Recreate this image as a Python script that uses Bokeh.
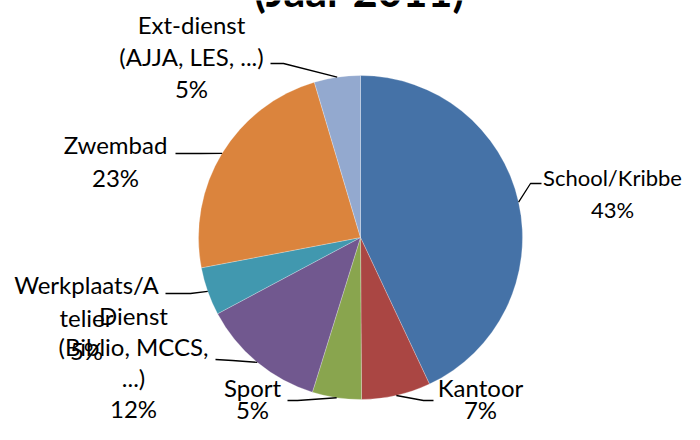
import math
from bokeh.plotting import figure
from bokeh.models import Range1d, ColumnDataSource
from bokeh.core.properties import value
from bokeh.embed import file_html
from bokeh.resources import INLINE

# ---- data ----
title_text = "(Jaar 2011)"
categories = ["School/Kribbe", "Kantoor", "Sport", "Dienst (Biblio, MCCS, ...)",
              "Werkplaats/Atelier", "Zwembad", "Ext-dienst (AJJA, LES, ...)"]
shares = [43.0, 6.9, 4.9, 12.4, 4.8, 23.4, 4.6]
label_lines = [["School/Kribbe"], ["Kantoor"], ["Sport"],
               ["Dienst", "(Biblio, MCCS,", "...)"],
               ["Werkplaats/A", "telier"], ["Zwembad"],
               ["Ext-dienst", "(AJJA, LES, ...)"]]
colors = ["#4572A7", "#AA4643", "#89A54E", "#71588F", "#4198AF", "#DB843D", "#93A9CF"]

# ---- layout (picture pixels) ----
W, H = 684, 424
CX, CY, R = 360, 237, 162
label_cx = [612, 480, 252, 133, 86, 115, 191]
label_base = [185, 396, 396, 324, 293, 153, 33]
line_step = [32, 22, 22, 31, 33, 33, 32]
label_size = [22, 24, 24, 24, 24, 24, 24]
attach = [(541, 183), (433, 400), (287, 400), (215, 359), (165, 293), (175, 153), (270, 63)]
elbow = [(530, 183), (423, 400), (297, 400), (232, 360), (190, 293), (200, 153), (283, 63)]
FONT = "Lato"
SHIFT = 0.37   # empirical baseline correction, in em

def Y(py):
    return 440 - py

total = sum(shares)
starts, ends, mids = [], [], []
c = 0.0
for s in shares:
    f0 = c / total
    c += s
    f1 = c / total
    starts.append(math.pi / 2 - 2 * math.pi * f0)
    ends.append(math.pi / 2 - 2 * math.pi * f1)
    mids.append((f0 + f1) / 2)

p = figure(width=W, height=H,
           x_range=Range1d(0, W), y_range=Range1d(Y(H), Y(0)),
           output_backend="svg", toolbar_location=None, min_border=0,
           x_axis_type=None, y_axis_type=None)
p.grid.visible = False
p.outline_line_color = None
p.background_fill_color = "white"

src = ColumnDataSource(dict(cat=categories, start=starts, end=ends, color=colors,
                            x=[CX] * len(shares), y=[Y(CY)] * len(shares)))
p.wedge(x="x", y="y", radius=R, start_angle="start", end_angle="end",
        direction="clock", fill_color="color", line_color="white", line_width=0.5,
        line_alpha=0.5, source=src)

# leader lines
xs, ys = [], []
for i, m in enumerate(mids):
    th = 2 * math.pi * m
    ex = CX + R * math.sin(th)
    ey = CY - R * math.cos(th)
    xs.append([attach[i][0], elbow[i][0], ex])
    ys.append([Y(attach[i][1]), Y(elbow[i][1]), Y(ey)])
p.multi_line(xs=xs, ys=ys, line_color="black", line_width=1.3)

# labels
tx, ty, tt, ts = [], [], [], []
for i, s in enumerate(shares):
    lines = label_lines[i] + [f"{round(100 * s / total)}%"]
    for k, ln in enumerate(lines):
        base = label_base[i] + k * line_step[i]
        tx.append(label_cx[i])
        ty.append(Y(base - SHIFT * label_size[i]))
        tt.append(ln)
        ts.append(f"{label_size[i]}px")
p.text(x=tx, y=ty, text=tt, text_align="center", text_baseline="alphabetic",
       text_font=value(FONT), text_font_size=ts, text_color="black")

# title (cut at the top edge as in the reference)
p.text(x=[359], y=[Y(6 - SHIFT * 43)], text=[title_text], text_align="center",
       text_baseline="alphabetic", text_font=value(FONT), text_font_size="43px",
       text_font_style="bold", text_color="black")

open("out.html", "w").write(file_html(p, INLINE))
